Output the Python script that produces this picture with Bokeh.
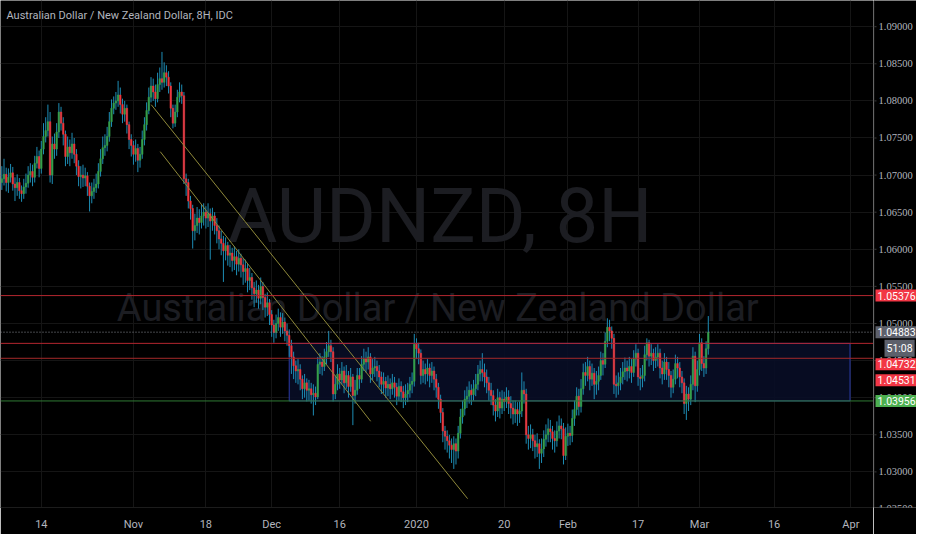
from bokeh.plotting import figure
from bokeh.models import Range1d, FixedTicker, Span, Label, ColumnDataSource, Grid
from bokeh.layouts import row
from bokeh.embed import file_html
from bokeh.resources import INLINE

# ---------------- data (AUDNZD 8H) ----------------
first_open = 1.0690
close = [
 1.0695,1.0701,1.0690,1.0697,1.0703,1.0688,1.0683,1.0690,1.0679,1.0675,
 1.0684,1.0689,1.0700,1.0705,1.0697,1.0716,1.0725,1.0709,1.0735,1.0752,
 1.0760,1.0772,1.0700,1.0742,1.0735,1.0758,1.0785,1.0770,1.0755,1.0725,
 1.0738,1.0730,1.0742,1.0728,1.0712,1.0698,1.0700,1.0696,1.0699,1.0685,
 1.0672,1.0678,1.0683,1.0688,1.0705,1.0722,1.0737,1.0740,1.0752,1.0772,
 1.0790,1.0797,1.0800,1.0808,1.0795,1.0782,1.0790,1.0768,1.0748,1.0740,
 1.0728,1.0736,1.0720,1.0728,1.0748,1.0768,1.0787,1.0805,1.0820,1.0812,
 1.0803,1.0822,1.0830,1.0825,1.0838,1.0832,1.0820,1.0790,1.0770,1.0785,
 1.0805,1.0812,1.0807,1.0695,1.0690,1.0665,1.0655,1.0625,1.0632,1.0642,
 1.0636,1.0645,1.0650,1.0642,1.0648,1.0638,1.0645,1.0632,1.0625,1.0614,
 1.0608,1.0598,1.0605,1.0592,1.0595,1.0585,1.0590,1.0580,1.0588,1.0579,
 1.0570,1.0574,1.0558,1.0562,1.0548,1.0540,1.0545,1.0534,1.0550,1.0535,
 1.0522,1.0528,1.0512,1.0498,1.0488,1.0500,1.0508,1.0495,1.0502,1.0490,
 1.0484,1.0470,1.0455,1.0443,1.0436,1.0438,1.0425,1.0412,1.0420,1.0410,
 1.0412,1.0404,1.0406,1.0401,1.0445,1.0448,1.0442,1.0455,1.0462,1.0470,
 1.0462,1.0405,1.0418,1.0432,1.0424,1.0436,1.0420,1.0430,1.0415,1.0428,
 1.0403,1.0410,1.0430,1.0425,1.0445,1.0452,1.0448,1.0455,1.0432,1.0440,
 1.0442,1.0436,1.0428,1.0418,1.0422,1.0413,1.0418,1.0412,1.0420,1.0414,
 1.0402,1.0415,1.0408,1.0400,1.0405,1.0410,1.0418,1.0422,1.0472,1.0466,
 1.0460,1.0430,1.0438,1.0432,1.0440,1.0430,1.0436,1.0425,1.0414,1.0398,
 1.0380,1.0355,1.0348,1.0342,1.0336,1.0330,1.0338,1.0328,1.0352,1.0374,
 1.0385,1.0398,1.0402,1.0410,1.0404,1.0412,1.0418,1.0432,1.0438,1.0434,
 1.0428,1.0420,1.0410,1.0403,1.0390,1.0382,1.0400,1.0386,1.0398,1.0395,
 1.0401,1.0392,1.0386,1.0378,1.0384,1.0378,1.0382,1.0410,1.0405,1.0350,
 1.0345,1.0350,1.0342,1.0334,1.0338,1.0325,1.0331,1.0344,1.0350,1.0358,
 1.0354,1.0345,1.0342,1.0355,1.0362,1.0358,1.0322,1.0348,1.0352,1.0349,
 1.0372,1.0384,1.0402,1.0388,1.0412,1.0434,1.0430,1.0442,1.0425,1.0433,
 1.0418,1.0422,1.0430,1.0450,1.0445,1.0476,1.0495,1.0490,1.0480,1.0418,
 1.0416,1.0420,1.0428,1.0435,1.0440,1.0436,1.0442,1.0434,1.0452,1.0460,
 1.0428,1.0426,1.0430,1.0458,1.0474,1.0456,1.0460,1.0450,1.0455,1.0460,
 1.0440,1.0432,1.0448,1.0438,1.0430,1.0414,1.0425,1.0446,1.0440,1.0428,
 1.0420,1.0392,1.0405,1.0398,1.0418,1.0456,1.0416,1.0438,1.0474,1.0446,
 1.0440,1.0466,1.04883]
high = [
 1.0712,1.0722,1.0710,1.0709,1.0715,1.0711,1.0697,1.0701,1.0696,1.0686,
 1.0695,1.0702,1.0712,1.0716,1.0714,1.0726,1.0738,1.0733,1.0746,1.0770,
 1.0778,1.0795,1.0785,1.0752,1.0756,1.0770,1.0797,1.0792,1.0778,1.0760,
 1.0752,1.0748,1.0757,1.0750,1.0735,1.0720,1.0712,1.0714,1.0710,1.0704,
 1.0690,1.0690,1.0695,1.0702,1.0716,1.0735,1.0752,1.0755,1.0765,1.0785,
 1.0802,1.0806,1.0812,1.0827,1.0818,1.0803,1.0800,1.0795,1.0772,1.0755,
 1.0746,1.0748,1.0742,1.0738,1.0760,1.0778,1.0798,1.0818,1.0832,1.0830,
 1.0822,1.0838,1.0845,1.0866,1.0852,1.0848,1.0840,1.0825,1.0795,1.0795,
 1.0815,1.0825,1.0822,1.0812,1.0702,1.0695,1.0672,1.0660,1.0648,1.0657,
 1.0654,1.0660,1.0662,1.0658,1.0662,1.0655,1.0656,1.0650,1.0642,1.0632,
 1.0625,1.0618,1.0616,1.0610,1.0606,1.0602,1.0604,1.0598,1.0600,1.0594,
 1.0588,1.0586,1.0580,1.0575,1.0568,1.0556,1.0558,1.0552,1.0562,1.0556,
 1.0540,1.0542,1.0533,1.0518,1.0505,1.0512,1.0520,1.0515,1.0514,1.0508,
 1.0500,1.0492,1.0478,1.0462,1.0450,1.0452,1.0445,1.0430,1.0432,1.0426,
 1.0424,1.0420,1.0418,1.0415,1.0455,1.0460,1.0456,1.0466,1.0475,1.0490,
 1.0478,1.0468,1.0430,1.0445,1.0440,1.0448,1.0442,1.0444,1.0436,1.0440,
 1.0432,1.0424,1.0440,1.0440,1.0456,1.0466,1.0462,1.0468,1.0460,1.0452,
 1.0455,1.0450,1.0444,1.0435,1.0434,1.0428,1.0430,1.0426,1.0432,1.0428,
 1.0420,1.0426,1.0422,1.0416,1.0418,1.0420,1.0428,1.0434,1.0486,1.0480,
 1.0474,1.0465,1.0450,1.0446,1.0452,1.0446,1.0448,1.0442,1.0432,1.0420,
 1.0404,1.0386,1.0362,1.0356,1.0350,1.0345,1.0348,1.0345,1.0362,1.0385,
 1.0396,1.0410,1.0415,1.0422,1.0418,1.0424,1.0432,1.0444,1.0450,1.0460,
 1.0446,1.0438,1.0428,1.0420,1.0410,1.0398,1.0412,1.0408,1.0410,1.0408,
 1.0414,1.0410,1.0402,1.0396,1.0396,1.0394,1.0395,1.0434,1.0422,1.0412,
 1.0362,1.0364,1.0358,1.0350,1.0352,1.0344,1.0345,1.0356,1.0364,1.0372,
 1.0370,1.0362,1.0356,1.0368,1.0376,1.0372,1.0366,1.0360,1.0365,1.0362,
 1.0384,1.0396,1.0414,1.0412,1.0425,1.0446,1.0448,1.0455,1.0450,1.0446,
 1.0440,1.0436,1.0442,1.0462,1.0460,1.0488,1.0507,1.0505,1.0496,1.0486,
 1.0430,1.0434,1.0440,1.0448,1.0454,1.0450,1.0455,1.0452,1.0464,1.0472,
 1.0466,1.0440,1.0444,1.0470,1.0480,1.0478,1.0472,1.0466,1.0468,1.0472,
 1.0466,1.0450,1.0460,1.0455,1.0448,1.0436,1.0438,1.0458,1.0455,1.0448,
 1.0436,1.0426,1.0416,1.0414,1.0430,1.0468,1.0462,1.0450,1.0486,1.0480,
 1.0456,1.0476,1.0510]
low = [
 1.0680,1.0686,1.0678,1.0676,1.0690,1.0679,1.0665,1.0672,1.0668,1.0664,
 1.0668,1.0675,1.0683,1.0690,1.0685,1.0690,1.0709,1.0697,1.0702,1.0728,
 1.0744,1.0752,1.0690,1.0688,1.0722,1.0726,1.0750,1.0760,1.0740,1.0712,
 1.0715,1.0712,1.0722,1.0716,1.0700,1.0685,1.0682,1.0684,1.0685,1.0672,
 1.0651,1.0662,1.0668,1.0676,1.0682,1.0698,1.0715,1.0726,1.0732,1.0745,
 1.0765,1.0782,1.0788,1.0792,1.0783,1.0770,1.0772,1.0756,1.0735,1.0725,
 1.0714,1.0718,1.0704,1.0710,1.0722,1.0740,1.0760,1.0782,1.0798,1.0800,
 1.0792,1.0798,1.0812,1.0815,1.0818,1.0820,1.0810,1.0778,1.0763,1.0765,
 1.0778,1.0798,1.0796,1.0688,1.0672,1.0655,1.0640,1.0601,1.0612,1.0622,
 1.0620,1.0628,1.0632,1.0628,1.0630,1.0586,1.0625,1.0620,1.0608,1.0600,
 1.0592,1.0556,1.0585,1.0578,1.0576,1.0570,1.0572,1.0565,1.0570,1.0562,
 1.0552,1.0555,1.0542,1.0545,1.0532,1.0522,1.0528,1.0520,1.0526,1.0518,
 1.0508,1.0510,1.0498,1.0482,1.0474,1.0480,1.0490,1.0482,1.0486,1.0476,
 1.0470,1.0455,1.0432,1.0425,1.0420,1.0418,1.0410,1.0398,1.0400,1.0395,
 1.0396,1.0392,1.0376,1.0390,1.0398,1.0432,1.0430,1.0436,1.0445,1.0455,
 1.0448,1.0395,1.0398,1.0410,1.0412,1.0418,1.0406,1.0412,1.0400,1.0408,
 1.0363,1.0392,1.0404,1.0412,1.0420,1.0436,1.0434,1.0438,1.0420,1.0424,
 1.0428,1.0422,1.0414,1.0405,1.0406,1.0400,1.0402,1.0398,1.0404,1.0400,
 1.0390,1.0396,1.0394,1.0386,1.0390,1.0394,1.0400,1.0406,1.0415,1.0452,
 1.0445,1.0418,1.0420,1.0418,1.0422,1.0414,1.0420,1.0410,1.0400,1.0385,
 1.0366,1.0340,1.0330,1.0326,1.0318,1.0312,1.0304,1.0310,1.0318,1.0345,
 1.0365,1.0376,1.0386,1.0392,1.0390,1.0396,1.0402,1.0410,1.0422,1.0422,
 1.0414,1.0406,1.0396,1.0390,1.0376,1.0368,1.0374,1.0372,1.0378,1.0382,
 1.0386,1.0378,1.0372,1.0364,1.0366,1.0362,1.0366,1.0374,1.0392,1.0338,
 1.0330,1.0332,1.0328,1.0318,1.0320,1.0304,1.0312,1.0320,1.0334,1.0340,
 1.0340,1.0330,1.0326,1.0334,1.0345,1.0344,1.0310,1.0316,1.0335,1.0336,
 1.0340,1.0362,1.0376,1.0376,1.0380,1.0404,1.0416,1.0422,1.0410,1.0416,
 1.0398,1.0404,1.0410,1.0424,1.0430,1.0440,1.0468,1.0476,1.0466,1.0405,
 1.0400,1.0404,1.0410,1.0418,1.0424,1.0422,1.0426,1.0420,1.0428,1.0442,
 1.0416,1.0410,1.0414,1.0422,1.0450,1.0442,1.0444,1.0436,1.0440,1.0442,
 1.0426,1.0418,1.0424,1.0424,1.0414,1.0400,1.0406,1.0418,1.0426,1.0414,
 1.0406,1.0378,1.0370,1.0382,1.0390,1.0410,1.0394,1.0408,1.0430,1.0436,
 1.0428,1.0432,1.0458]

# time axis labels (bar index of each label)
tick_index = [18, 60, 93, 123, 154, 189, 229, 258, 290, 318, 352, 387]
tick_labels = ["14", "Nov", "18", "Dec", "16", "2020", "20", "Feb", "17", "Mar", "16", "Apr"]
price_ticks = [1.025, 1.030, 1.035, 1.040, 1.045, 1.050, 1.055, 1.060,
               1.065, 1.070, 1.075, 1.080, 1.085, 1.090]

# drawings
level_prices = [1.05376, 1.04732, 1.04531, 1.03956]
last_price = 1.04883
countdown = "51:08"
zone_left, zone_right, zone_top, zone_bottom = [131.0], [386.6], [1.04732], [1.03956]
trend_x0 = [68.1, 72.2]
trend_y0 = [1.07949, 1.07316]
trend_x1 = [212.3, 168.1]
trend_y1 = [1.02639, 1.03682]

# ---------------- build ----------------
n = min(len(close), len(high), len(low))
opens = [first_open] + close[:n - 1]
UP, DOWN, WICK = "#36a04b", "#f0363c", "#1d8db5"
src = ColumnDataSource(dict(
    x=list(range(n)), h=high[:n], l=low[:n],
    top=[max(a, b) for a, b in zip(opens, close[:n])],
    bot=[min(a, b) for a, b in zip(opens, close[:n])],
    col=[UP if c >= o else DOWN for o, c in zip(opens, close[:n])],
))

FONT = "Roboto"
BG = "#000000"
TXT = "#b2b5be"
GRID = "#151515"
WM = "#1c1d22"
H, BOTTOM = 534, 27
MAIN_W, SCALE_W = 873, 43

yr = Range1d(1.0252, 1.09353)
p = figure(width=MAIN_W, height=H, output_backend="svg", toolbar_location=None,
           x_range=Range1d(-0.6, 397.3), y_range=yr, y_axis_location=None,
           background_fill_color=BG, border_fill_color=BG, outline_line_color=None,
           min_border_left=0, min_border_top=0, min_border_right=0, min_border_bottom=BOTTOM)

xa = p.xaxis[0]
xa.ticker = FixedTicker(ticks=tick_index)
xa.major_label_overrides = {t: l for t, l in zip(tick_index, tick_labels)}
xa.major_tick_out = 0
xa.major_tick_in = 0
xa.minor_tick_out = 0
xa.axis_line_color = "#1c1c1c"
xa.major_label_standoff = 10
xa.major_label_text_color = TXT
xa.major_label_text_font = FONT
xa.major_label_text_font_size = "11px"
p.xgrid.grid_line_color = GRID
p.add_layout(Grid(dimension=1, ticker=FixedTicker(ticks=price_ticks), grid_line_color=GRID))

# watermark
p.add_layout(Label(x=199.8, y=1.06448, text="AUDNZD, 8H", text_align="center",
                   text_baseline="middle", text_font=FONT, text_font_size="76px",
                   text_color=WM, level="underlay"))
p.add_layout(Label(x=198.7, y=1.05204, text="Australian Dollar / New Zealand Dollar",
                   text_align="center", text_baseline="middle", text_font=FONT,
                   text_font_size="38px", text_color=WM, level="underlay"))

# zone rectangle
p.quad(left=zone_left, right=zone_right, top=zone_top, bottom=zone_bottom,
       fill_color="#080d26", fill_alpha=0.9, line_color="#2b3aa6", line_width=1)

# candles
p.segment(x0="x", y0="h", x1="x", y1="l", source=src, line_color=WICK, line_width=1)
p.vbar(x="x", width=0.7, top="top", bottom="bot", source=src,
       fill_color="col", line_color="col", line_width=0.5)

# trend lines
p.segment(x0=trend_x0, y0=trend_y0, x1=trend_x1, y1=trend_y1,
          line_color="#8f893a", line_width=1)

# horizontal levels
level_cols = ["#b3262f", "#b3262f", "#a52a2a", "#2f7a34"]
for price, col in zip(level_prices, level_cols):
    p.add_layout(Span(location=price, dimension="width", line_color=col, line_width=1))
p.add_layout(Span(location=last_price, dimension="width", line_color="#8a8d95",
                  line_width=1, line_dash="1 2"))

# title
p.add_layout(Label(x=-0.6, y=1.09353, x_offset=6, y_offset=-15, text_baseline="middle",
                   text="Australian Dollar / New Zealand Dollar, 8H, IDC",
                   text_color=TXT, text_font=FONT, text_font_size="11px"))

# ---------------- price scale (shares the price range) ----------------
s = figure(width=SCALE_W, height=H, output_backend="svg", toolbar_location=None,
           x_range=Range1d(0, SCALE_W), y_range=yr, x_axis_location=None,
           y_axis_location=None, background_fill_color=BG, border_fill_color=BG,
           outline_line_color=None, min_border_left=0, min_border_top=0,
           min_border_right=0, min_border_bottom=BOTTOM)
s.xgrid.visible = False
s.ygrid.visible = False
s.add_layout(Span(location=0.5, dimension="height", line_color="#1c1c1c", line_width=1))
s.segment(x0=[0] * len(price_ticks), x1=[3] * len(price_ticks), y0=price_ticks,
          y1=price_ticks, line_color="#3a3a3a", line_width=1)
s.text(x=[5] * len(price_ticks), y=price_ticks, text=["%.5f" % t for t in price_ticks],
       text_baseline="middle", text_align="left", text_color=TXT,
       text_font="Roboto", text_font_size="10.5px")


def price_label(y, text, bg, yoff=0, x=0):
    s.add_layout(Label(x=x, y=y, y_offset=yoff, text=text, text_baseline="middle",
                       text_align="left", text_color="#ffffff", text_font=FONT,
                       text_font_size="10.5px", background_fill_color=bg, padding=2))


price_label(level_prices[0], "%.5f" % level_prices[0], "#f23645", x=2)
price_label(last_price, "%.5f" % last_price, "#5d606b", x=2)
price_label(last_price, countdown, "#5d606b", yoff=-16, x=11)
price_label(level_prices[1], "%.5f" % level_prices[1], "#f23645", yoff=-21, x=2)
price_label(level_prices[2], "%.5f" % level_prices[2], "#f23645", yoff=-22, x=2)
price_label(level_prices[3], "%.5f" % level_prices[3], "#4caf50", x=2)

layout = row(p, s)
open("out.html", "w").write(file_html(layout, INLINE))
